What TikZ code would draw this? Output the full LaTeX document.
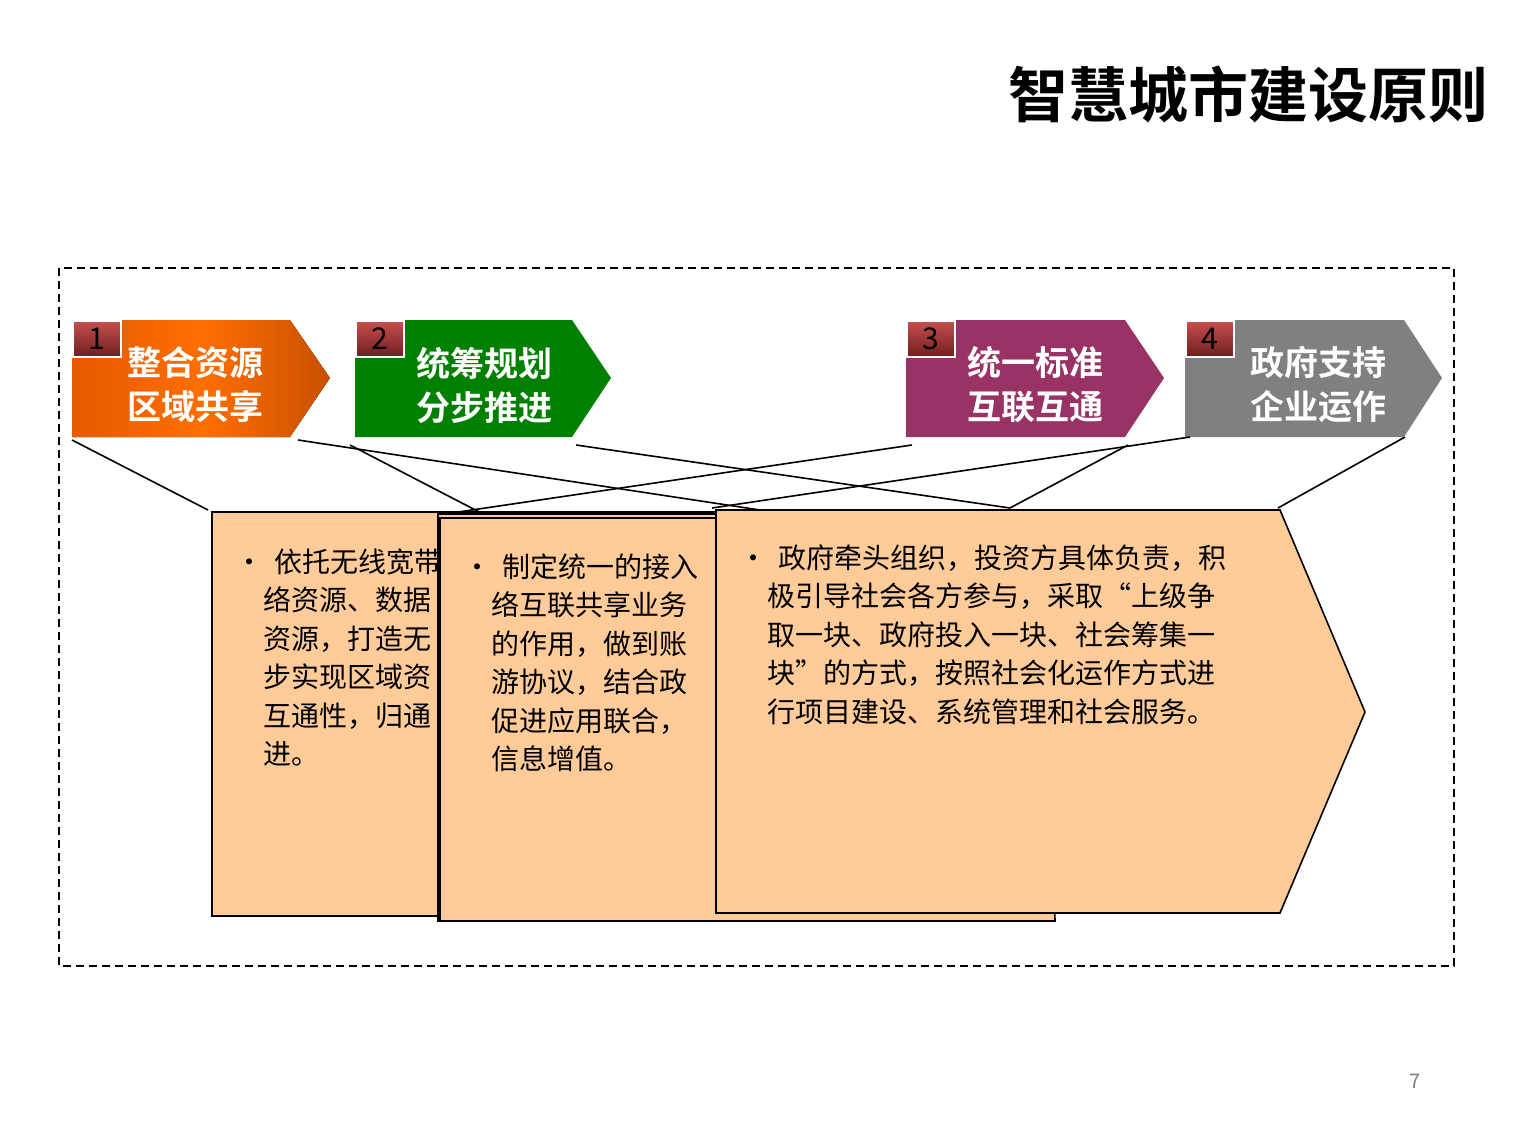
\documentclass[tikz,border=0pt]{standalone}
\usepackage{fontspec}
\setmainfont{Noto Sans CJK SC}
\newfontfamily\cjkb{Noto Sans CJK SC Bold}
\begin{document}
\begin{tikzpicture}[x=1pt,y=-1pt,
  conn/.style={line width=1.6pt},
  pbox/.style={draw,line width=1.6pt,fill={rgb,255:red,255;green,204;blue,153}},
  numbox/.style={draw=white,line width=1.5pt,inner sep=0pt,minimum width=48,minimum height=36,font=\fontsize{30}{30}\selectfont,top color={rgb,255:red,200;green,80;blue,80},bottom color={rgb,255:red,110;green,30;blue,30}},
  chevtxt/.style={text=white,font=\cjkb\fontsize{34}{44}\selectfont,align=center},
  btxt/.style={anchor=north west,align=left,font=\fontsize{28}{38.5}\selectfont,text width=520}]
\useasboundingbox (0,0) rectangle (1513,1134);
\node[anchor=north east,font=\cjkb\fontsize{60}{60}\selectfont] (title) at (1492,62) {智慧城市建设原则};
\draw[dashed,line width=1.6pt,dash pattern=on 8pt off 5pt] (59,268) rectangle (1454,966);
% chevrons
\fill[left color={rgb,255:red,230;green,90;blue,0},right color={rgb,255:red,200;green,80;blue,0},middle color={rgb,255:red,255;green,110;blue,0}] (72,320) -- (290,320) -- (330,378) -- (290,437) -- (72,437) -- cycle;
\fill[green!50!black,fill={rgb,255:red,0;green,128;blue,0}] (355,320) -- (572,320) -- (611,378) -- (572,437) -- (355,437) -- cycle;
\fill[fill={rgb,255:red,153;green,51;blue,102}] (906,320) -- (1125,320) -- (1164,378) -- (1125,437) -- (906,437) -- cycle;
\fill[fill={rgb,255:red,128;green,128;blue,128}] (1185,320) -- (1404,320) -- (1442,378) -- (1404,437) -- (1185,437) -- cycle;
\node[numbox,anchor=north west] (n1) at (72,320) {1};
\node[numbox,anchor=north west] (n2) at (355,320) {2};
\node[numbox,anchor=north west] (n3) at (906,320) {3};
\node[numbox,anchor=north west] (n4) at (1185,320) {4};
\node[chevtxt] (c1) at (195,385) {整合资源\\区域共享};
\node[chevtxt] (c2) at (484,385) {统筹规划\\分步推进};
\node[chevtxt] (c3) at (1035,385) {统一标准\\互联互通};
\node[chevtxt] (c4) at (1318,385) {政府支持\\企业运作};
% connectors
\coordinate (a1) at (72,440); \coordinate (b1) at (208,510);
\coordinate (a2) at (298,440); \coordinate (b2) at (760,510);
\coordinate (a3) at (350,445); \coordinate (b3) at (485,515);
\coordinate (a4) at (576,445); \coordinate (b4) at (1010,508);
\coordinate (a5) at (912,445); \coordinate (b5) at (438,515);
\coordinate (a6) at (1190,437); \coordinate (b6) at (712,508);
\coordinate (a7) at (1128,445); \coordinate (b7) at (1010,508);
\coordinate (a8) at (1405,437); \coordinate (b8) at (1278,508);
\foreach \i in {1,...,8} \draw[conn] (a\i) -- (b\i);
% boxes
\draw[pbox] (212,512) -- (780,512) -- (860,714) -- (780,916) -- (212,916) -- cycle;
\draw[pbox] (438,514) -- (970,514) -- (1060,718) -- (1005,921) -- (438,921) -- cycle;
\draw[pbox] (440,518) -- (975,518) -- (1050,718) -- (1055,921) -- (440,921) -- cycle;
\node[btxt] (t1) at (232,545) {•\hspace{0.4em}依托无线宽带\\\hspace{1em}络资源、数据\\\hspace{1em}资源，打造无\\\hspace{1em}步实现区域资\\\hspace{1em}互通性，归通\\\hspace{1em}进。};
\node[btxt] (t2) at (460,550) {•\hspace{0.4em}制定统一的接入\\\hspace{1em}络互联共享业务\\\hspace{1em}的作用，做到账\\\hspace{1em}游协议，结合政\\\hspace{1em}促进应用联合，\\\hspace{1em}信息增值。};
\draw[pbox] (716,510) -- (1280,510) -- (1365,712) -- (1280,913) -- (716,913) -- cycle;
\node[btxt] (t3) at (736,541) {•\hspace{0.4em}政府牵头组织，投资方具体负责，积\\\hspace{1em}极引导社会各方参与，采取“上级争\\\hspace{1em}取一块、政府投入一块、社会筹集一\\\hspace{1em}块”的方式，按照社会化运作方式进\\\hspace{1em}行项目建设、系统管理和社会服务。};
\node[text=gray,font=\fontsize{20}{20}\selectfont] (pg) at (1415,1081) {7};
\end{tikzpicture}
\end{document}
